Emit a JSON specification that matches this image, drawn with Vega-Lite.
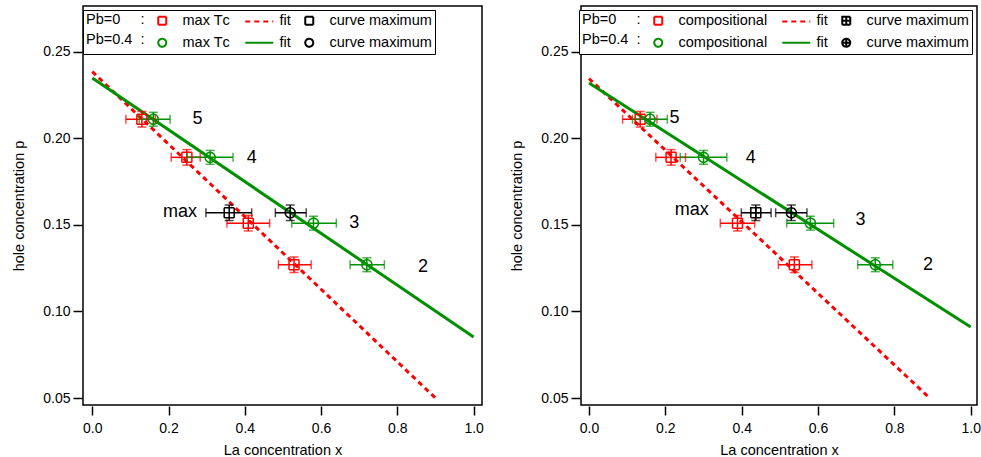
{
  "$schema": "https://vega.github.io/schema/vega-lite/v6.json",
  "background": "white",
  "padding": {"left": 11, "top": 5, "right": 0, "bottom": 0},
  "spacing": 24,
  "config": {
    "font": "Liberation Sans",
    "view": {"stroke": "black", "strokeWidth": 1.5},
    "axis": {"grid": false, "domain": false, "tickColor": "black", "tickWidth": 1.5, "tickSize": 9, "offset": 1,
      "labelFontSize": 14, "labelColor": "black", "titleFontSize": 14.5, "titleFontWeight": "normal", "titleColor": "black",
      "labelFont": "Liberation Sans", "titleFont": "Liberation Sans"},
    "axisX": {"labelPadding": 6, "titlePadding": 8},
    "axisY": {"labelPadding": 3, "titlePadding": 16},
    "legend": {"orient": "none", "legendX": 0, "legendY": 4, "direction": "horizontal", "columns": 3,
      "columnPadding": 10, "rowPadding": 5.5, "padding": 3, "strokeColor": "black", "fillColor": "white",
      "titleOrient": "left", "titleAnchor": "start", "titleFontSize": 14.5, "titleFontWeight": "normal", "titleColor": "black",
      "titleLineHeight": 20, "titlePadding": 10, "titleBaseline": "top", "titleFont": "Liberation Sans",
      "labelFont": "Liberation Sans", "labelFontSize": 14.5, "labelColor": "black", "labelOffset": 13, "labelLimit": 0,
      "symbolSize": 64, "symbolStrokeWidth": 2}
  },
  "datasets": {
    "fitL": [
      {"series": "Pb=0|fit", "x": 0, "y": 0.2385},
      {"series": "Pb=0|fit", "x": 0.9, "y": 0.05},
      {"series": "Pb=0.4|fit", "x": 0, "y": 0.2348},
      {"series": "Pb=0.4|fit", "x": 1.0, "y": 0.0853}
    ],
    "ptsL": [
      {"series": "Pb=0|max Tᴄ", "x": 0.13, "xlo": 0.088, "xhi": 0.165, "y": 0.211, "ylo": 0.2065, "yhi": 0.2155},
      {"series": "Pb=0|max Tᴄ", "x": 0.248, "xlo": 0.207, "xhi": 0.283, "y": 0.189, "ylo": 0.1845, "yhi": 0.1935},
      {"series": "Pb=0|max Tᴄ", "x": 0.409, "xlo": 0.353, "xhi": 0.465, "y": 0.151, "ylo": 0.1465, "yhi": 0.1555},
      {"series": "Pb=0|max Tᴄ", "x": 0.529, "xlo": 0.488, "xhi": 0.574, "y": 0.127, "ylo": 0.1225, "yhi": 0.1315},
      {"series": "Pb=0.4|max Tᴄ", "x": 0.16, "xlo": 0.123, "xhi": 0.204, "y": 0.211, "ylo": 0.207, "yhi": 0.215},
      {"series": "Pb=0.4|max Tᴄ", "x": 0.309, "xlo": 0.248, "xhi": 0.369, "y": 0.189, "ylo": 0.185, "yhi": 0.193},
      {"series": "Pb=0.4|max Tᴄ", "x": 0.58, "xlo": 0.523, "xhi": 0.64, "y": 0.151, "ylo": 0.147, "yhi": 0.155},
      {"series": "Pb=0.4|max Tᴄ", "x": 0.72, "xlo": 0.676, "xhi": 0.766, "y": 0.127, "ylo": 0.123, "yhi": 0.131},
      {"series": "Pb=0|curve maximum", "x": 0.359, "xlo": 0.298, "xhi": 0.418, "y": 0.157, "ylo": 0.1525, "yhi": 0.1615},
      {"series": "Pb=0.4|curve maximum", "x": 0.519, "xlo": 0.48, "xhi": 0.561, "y": 0.157, "ylo": 0.1525, "yhi": 0.1615}
    ],
    "lblL": [
      {"text": "5", "x": 0.276, "y": 0.211},
      {"text": "4", "x": 0.418, "y": 0.1885},
      {"text": "3", "x": 0.687, "y": 0.151},
      {"text": "2", "x": 0.867, "y": 0.1255},
      {"text": "max", "x": 0.23, "y": 0.1576}
    ],
    "fitR": [
      {"series": "Pb=0|fit", "x": 0, "y": 0.2345},
      {"series": "Pb=0|fit", "x": 0.8925, "y": 0.05},
      {"series": "Pb=0.4|fit", "x": 0, "y": 0.2319},
      {"series": "Pb=0.4|fit", "x": 1.0, "y": 0.091}
    ],
    "ptsR": [
      {"series": "Pb=0|compositional", "x": 0.134, "xlo": 0.088, "xhi": 0.178, "y": 0.211, "ylo": 0.2065, "yhi": 0.2155},
      {"series": "Pb=0|compositional", "x": 0.215, "xlo": 0.175, "xhi": 0.253, "y": 0.189, "ylo": 0.1845, "yhi": 0.1935},
      {"series": "Pb=0|compositional", "x": 0.389, "xlo": 0.344, "xhi": 0.434, "y": 0.151, "ylo": 0.1465, "yhi": 0.1555},
      {"series": "Pb=0|compositional", "x": 0.538, "xlo": 0.496, "xhi": 0.584, "y": 0.127, "ylo": 0.1225, "yhi": 0.1315},
      {"series": "Pb=0.4|compositional", "x": 0.16, "xlo": 0.114, "xhi": 0.205, "y": 0.211, "ylo": 0.207, "yhi": 0.215},
      {"series": "Pb=0.4|compositional", "x": 0.3, "xlo": 0.239, "xhi": 0.361, "y": 0.189, "ylo": 0.185, "yhi": 0.193},
      {"series": "Pb=0.4|compositional", "x": 0.58, "xlo": 0.518, "xhi": 0.641, "y": 0.151, "ylo": 0.147, "yhi": 0.155},
      {"series": "Pb=0.4|compositional", "x": 0.75, "xlo": 0.704, "xhi": 0.796, "y": 0.127, "ylo": 0.123, "yhi": 0.131},
      {"series": "Pb=0|curve maximum", "x": 0.437, "xlo": 0.399, "xhi": 0.477, "y": 0.157, "ylo": 0.1525, "yhi": 0.1615},
      {"series": "Pb=0.4|curve maximum", "x": 0.53, "xlo": 0.489, "xhi": 0.571, "y": 0.157, "ylo": 0.1525, "yhi": 0.1615}
    ],
    "lblR": [
      {"text": "5", "x": 0.224, "y": 0.2119},
      {"text": "4", "x": 0.424, "y": 0.1888},
      {"text": "3", "x": 0.711, "y": 0.1526},
      {"text": "2", "x": 0.888, "y": 0.1268},
      {"text": "max", "x": 0.269, "y": 0.1586}
    ]
  },
  "resolve": {
    "scale": {"x": "independent", "y": "independent", "color": "independent", "shape": "independent", "strokeDash": "independent", "stroke": "independent", "fill": "independent"},
    "legend": {"color": "independent", "shape": "independent", "strokeDash": "independent"}
  },
  "hconcat": [
    {
      "width": 399, "height": 399,
      "layer": [
        {
          "data": {"name": "fitL"},
          "transform": [{"filter": "datum.series == 'Pb=0|fit'"}],
          "mark": {"type": "line", "strokeWidth": 3, "color": "#ff0000", "strokeDash": [5, 4]},
          "encoding": {
            "x": {"field": "x", "type": "quantitative", "scale": {"domain": [-0.0244, 1.022], "nice": false, "zero": false},
              "axis": {"title": "La concentration x", "values": [0, 0.2, 0.4, 0.6, 0.8, 1.0], "format": ".1f"}},
            "y": {"field": "y", "type": "quantitative", "scale": {"domain": [0.046, 0.2764], "nice": false, "zero": false},
              "axis": {"title": "hole concentration p", "values": [0.05, 0.1, 0.15, 0.2, 0.25], "format": ".2f"}}
          }
        },
        {
          "data": {"name": "fitL"},
          "transform": [{"filter": "datum.series == 'Pb=0.4|fit'"}],
          "mark": {"type": "line", "strokeWidth": 3, "color": "#009000"},
          "encoding": {"x": {"field": "x", "type": "quantitative"}, "y": {"field": "y", "type": "quantitative"}}
        },
        {
          "data": {"name": "ptsL"},
          "mark": {"type": "rule", "strokeWidth": 1.5},
          "encoding": {"x": {"field": "xlo", "type": "quantitative"}, "x2": {"field": "xhi"}, "y": {"field": "y", "type": "quantitative"},
            "stroke": {"field": "series", "type": "nominal", "legend": null,
              "scale": {"domain": ["Pb=0|max Tᴄ", "Pb=0|curve maximum", "Pb=0.4|max Tᴄ", "Pb=0.4|curve maximum"], "range": ["#ff0000", "#000000", "#009000", "#000000"]}}}
        },
        {
          "data": {"name": "ptsL"},
          "mark": {"type": "rule", "strokeWidth": 1.5},
          "encoding": {"x": {"field": "x", "type": "quantitative"}, "y": {"field": "ylo", "type": "quantitative"}, "y2": {"field": "yhi"},
            "stroke": {"field": "series", "type": "nominal", "legend": null}}
        },
        {
          "data": {"name": "ptsL"},
          "mark": {"type": "tick", "orient": "vertical", "size": 9, "thickness": 1.5},
          "encoding": {"x": {"field": "xlo", "type": "quantitative"}, "y": {"field": "y", "type": "quantitative"},
            "fill": {"field": "series", "type": "nominal", "legend": null,
              "scale": {"domain": ["Pb=0|max Tᴄ", "Pb=0|curve maximum", "Pb=0.4|max Tᴄ", "Pb=0.4|curve maximum"], "range": ["#ff0000", "#000000", "#009000", "#000000"]}}}
        },
        {
          "data": {"name": "ptsL"},
          "mark": {"type": "tick", "orient": "vertical", "size": 9, "thickness": 1.5},
          "encoding": {"x": {"field": "xhi", "type": "quantitative"}, "y": {"field": "y", "type": "quantitative"},
            "fill": {"field": "series", "type": "nominal", "legend": null}}
        },
        {
          "data": {"name": "ptsL"},
          "mark": {"type": "tick", "orient": "horizontal", "size": 9, "thickness": 1.5},
          "encoding": {"x": {"field": "x", "type": "quantitative"}, "y": {"field": "ylo", "type": "quantitative"},
            "fill": {"field": "series", "type": "nominal", "legend": null}}
        },
        {
          "data": {"name": "ptsL"},
          "mark": {"type": "tick", "orient": "horizontal", "size": 9, "thickness": 1.5},
          "encoding": {"x": {"field": "x", "type": "quantitative"}, "y": {"field": "yhi", "type": "quantitative"},
            "fill": {"field": "series", "type": "nominal", "legend": null}}
        },
        {
          "data": {"name": "ptsL"},
          "mark": {"type": "point", "filled": false, "size": 100, "strokeWidth": 1.5, "opacity": 1},
          "encoding": {
            "x": {"field": "x", "type": "quantitative"},
            "y": {"field": "y", "type": "quantitative"},
            "color": {"field": "series", "type": "nominal",
              "scale": {"domain": ["Pb=0|max Tᴄ", "Pb=0|fit", "Pb=0|curve maximum", "Pb=0.4|max Tᴄ", "Pb=0.4|fit", "Pb=0.4|curve maximum"],
                "range": ["#ff0000", "#ff0000", "#000000", "#009000", "#009000", "#000000"]},
              "legend": {"title": ["Pb=0\u00a0\u00a0\u00a0\u00a0\u00a0:", "Pb=0.4\u00a0\u00a0:"], "labelExpr": "replace(split(datum.label, '|')[1], 'fit', '\u00a0fit\u00a0')"}},
            "shape": {"field": "series", "type": "nominal",
              "scale": {"domain": ["Pb=0|max Tᴄ", "Pb=0|fit", "Pb=0|curve maximum", "Pb=0.4|max Tᴄ", "Pb=0.4|fit", "Pb=0.4|curve maximum"],
                "range": ["square", "M-3.5,0H3.5", "square", "circle", "M-3.5,0H3.5", "circle"]},
              "legend": {"title": ["Pb=0\u00a0\u00a0\u00a0\u00a0\u00a0:", "Pb=0.4\u00a0\u00a0:"], "labelExpr": "replace(split(datum.label, '|')[1], 'fit', '\u00a0fit\u00a0')"}},
            "strokeDash": {"field": "series", "type": "nominal",
              "scale": {"domain": ["Pb=0|max Tᴄ", "Pb=0|fit", "Pb=0|curve maximum", "Pb=0.4|max Tᴄ", "Pb=0.4|fit", "Pb=0.4|curve maximum"],
                "range": [[1, 0], [5, 4], [1, 0], [1, 0], [1, 0], [1, 0]]},
              "legend": {"title": ["Pb=0\u00a0\u00a0\u00a0\u00a0\u00a0:", "Pb=0.4\u00a0\u00a0:"], "labelExpr": "replace(split(datum.label, '|')[1], 'fit', '\u00a0fit\u00a0')"}}
          }
        },
        {
          "data": {"name": "lblL"},
          "mark": {"type": "text", "fontSize": 18, "font": "Liberation Sans", "align": "center", "baseline": "middle", "color": "black"},
          "encoding": {"x": {"field": "x", "type": "quantitative"}, "y": {"field": "y", "type": "quantitative"}, "text": {"field": "text"}}
        }
      ]
    },
    {
      "width": 396, "height": 399,
      "layer": [
        {
          "data": {"name": "fitR"},
          "transform": [{"filter": "datum.series == 'Pb=0|fit'"}],
          "mark": {"type": "line", "strokeWidth": 3, "color": "#ff0000", "strokeDash": [5, 4]},
          "encoding": {
            "x": {"field": "x", "type": "quantitative", "scale": {"domain": [-0.021, 1.0165], "nice": false, "zero": false},
              "axis": {"title": "La concentration x", "values": [0, 0.2, 0.4, 0.6, 0.8, 1.0], "format": ".1f"}},
            "y": {"field": "y", "type": "quantitative", "scale": {"domain": [0.046, 0.2764], "nice": false, "zero": false},
              "axis": {"title": "hole concentration p", "values": [0.05, 0.1, 0.15, 0.2, 0.25], "format": ".2f"}}
          }
        },
        {
          "data": {"name": "fitR"},
          "transform": [{"filter": "datum.series == 'Pb=0.4|fit'"}],
          "mark": {"type": "line", "strokeWidth": 3, "color": "#009000"},
          "encoding": {"x": {"field": "x", "type": "quantitative"}, "y": {"field": "y", "type": "quantitative"}}
        },
        {
          "data": {"name": "ptsR"},
          "mark": {"type": "rule", "strokeWidth": 1.5},
          "encoding": {"x": {"field": "xlo", "type": "quantitative"}, "x2": {"field": "xhi"}, "y": {"field": "y", "type": "quantitative"},
            "stroke": {"field": "series", "type": "nominal", "legend": null,
              "scale": {"domain": ["Pb=0|compositional", "Pb=0|curve maximum", "Pb=0.4|compositional", "Pb=0.4|curve maximum"], "range": ["#ff0000", "#000000", "#009000", "#000000"]}}}
        },
        {
          "data": {"name": "ptsR"},
          "mark": {"type": "rule", "strokeWidth": 1.5},
          "encoding": {"x": {"field": "x", "type": "quantitative"}, "y": {"field": "ylo", "type": "quantitative"}, "y2": {"field": "yhi"},
            "stroke": {"field": "series", "type": "nominal", "legend": null}}
        },
        {
          "data": {"name": "ptsR"},
          "mark": {"type": "tick", "orient": "vertical", "size": 9, "thickness": 1.5},
          "encoding": {"x": {"field": "xlo", "type": "quantitative"}, "y": {"field": "y", "type": "quantitative"},
            "fill": {"field": "series", "type": "nominal", "legend": null,
              "scale": {"domain": ["Pb=0|compositional", "Pb=0|curve maximum", "Pb=0.4|compositional", "Pb=0.4|curve maximum"], "range": ["#ff0000", "#000000", "#009000", "#000000"]}}}
        },
        {
          "data": {"name": "ptsR"},
          "mark": {"type": "tick", "orient": "vertical", "size": 9, "thickness": 1.5},
          "encoding": {"x": {"field": "xhi", "type": "quantitative"}, "y": {"field": "y", "type": "quantitative"},
            "fill": {"field": "series", "type": "nominal", "legend": null}}
        },
        {
          "data": {"name": "ptsR"},
          "mark": {"type": "tick", "orient": "horizontal", "size": 9, "thickness": 1.5},
          "encoding": {"x": {"field": "x", "type": "quantitative"}, "y": {"field": "ylo", "type": "quantitative"},
            "fill": {"field": "series", "type": "nominal", "legend": null}}
        },
        {
          "data": {"name": "ptsR"},
          "mark": {"type": "tick", "orient": "horizontal", "size": 9, "thickness": 1.5},
          "encoding": {"x": {"field": "x", "type": "quantitative"}, "y": {"field": "yhi", "type": "quantitative"},
            "fill": {"field": "series", "type": "nominal", "legend": null}}
        },
        {
          "data": {"name": "ptsR"},
          "mark": {"type": "point", "filled": false, "size": 100, "strokeWidth": 1.5, "opacity": 1},
          "encoding": {
            "x": {"field": "x", "type": "quantitative"},
            "y": {"field": "y", "type": "quantitative"},
            "color": {"field": "series", "type": "nominal",
              "scale": {"domain": ["Pb=0|compositional", "Pb=0|fit", "Pb=0|curve maximum", "Pb=0.4|compositional", "Pb=0.4|fit", "Pb=0.4|curve maximum"],
                "range": ["#ff0000", "#ff0000", "#000000", "#009000", "#009000", "#000000"]},
              "legend": {"title": ["Pb=0\u00a0\u00a0\u00a0\u00a0\u00a0:", "Pb=0.4\u00a0\u00a0:"], "labelExpr": "replace(split(datum.label, '|')[1], 'fit', '\u00a0fit\u00a0')", "legendX": -2, "legendY": 4}},
            "shape": {"field": "series", "type": "nominal",
              "scale": {"domain": ["Pb=0|compositional", "Pb=0|fit", "Pb=0|curve maximum", "Pb=0.4|compositional", "Pb=0.4|fit", "Pb=0.4|curve maximum"],
                "range": ["square", "M-3.5,0H3.5", "M-1,-1H1V1H-1ZM0,-1V1M-1,0H1", "circle", "M-3.5,0H3.5", "M1,0A1,1,0,1,1,-1,0A1,1,0,1,1,1,0ZM0,-1V1M-1,0H1"]},
              "legend": {"title": ["Pb=0\u00a0\u00a0\u00a0\u00a0\u00a0:", "Pb=0.4\u00a0\u00a0:"], "labelExpr": "replace(split(datum.label, '|')[1], 'fit', '\u00a0fit\u00a0')", "legendX": -2, "legendY": 4}},
            "strokeDash": {"field": "series", "type": "nominal",
              "scale": {"domain": ["Pb=0|compositional", "Pb=0|fit", "Pb=0|curve maximum", "Pb=0.4|compositional", "Pb=0.4|fit", "Pb=0.4|curve maximum"],
                "range": [[1, 0], [5, 4], [1, 0], [1, 0], [1, 0], [1, 0]]},
              "legend": {"title": ["Pb=0\u00a0\u00a0\u00a0\u00a0\u00a0:", "Pb=0.4\u00a0\u00a0:"], "labelExpr": "replace(split(datum.label, '|')[1], 'fit', '\u00a0fit\u00a0')", "legendX": -2, "legendY": 4}}
          }
        },
        {
          "data": {"name": "lblR"},
          "mark": {"type": "text", "fontSize": 18, "font": "Liberation Sans", "align": "center", "baseline": "middle", "color": "black"},
          "encoding": {"x": {"field": "x", "type": "quantitative"}, "y": {"field": "y", "type": "quantitative"}, "text": {"field": "text"}}
        }
      ]
    }
  ]
}
